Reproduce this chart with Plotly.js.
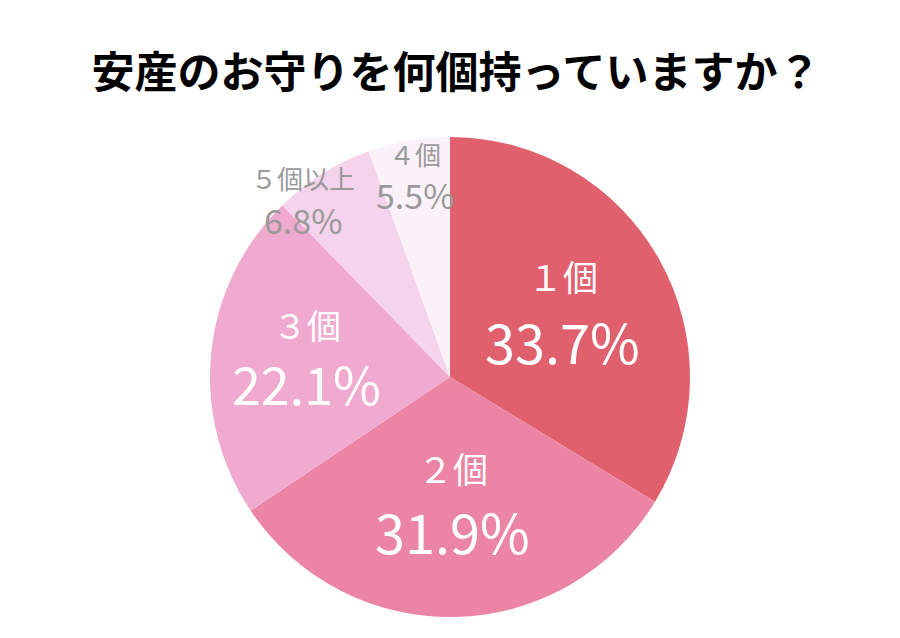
<!DOCTYPE html>
<html><head><meta charset="utf-8">
<script src="https://cdn.plot.ly/plotly-3.0.1.min.js"></script>
<style>html,body{margin:0;padding:0;background:#fff}</style>
</head><body>
<div id="chart" style="width:900px;height:638px"></div>
<script>
const categories = ["１個", "２個", "３個", "５個以上", "４個"];
const percents = [33.7, 31.9, 22.1, 6.8, 5.5];
const colors = ["#E0606E", "#EB85A3", "#F0AACF", "#F5D3EC", "#FBF1F8"];
const titleText = "安産のお守りを何個持っていますか？";

// label styling (positions relative to slice mid-angle)
const labelRadius = [0.54, 0.54, 0.6, 0.95, 0.84];
const angleShift = [0, 0, 0, -8, 0];
const nameOffset = [-38, -39, -38, -25, -25];
const pctOffset = [27, 24, 20, 17, 16];
const nameSize = [35, 35, 34, 26, 26];
const pctSize = [54, 54, 52, 34, 34];
const textColor = ["#ffffff", "#ffffff", "#ffffff", "#9a9a9a", "#9a9a9a"];

const W = 900, H = 638;
const cx = 450, cy = 377, R = 240;

const annotations = [];
const total = percents.reduce((a, b) => a + b, 0);
let cum = 0;
percents.forEach((p, i) => {
  const mid = (cum + p / 2) / total * 360 + angleShift[i];
  cum += p;
  const rad = mid * Math.PI / 180;
  const px = cx + Math.sin(rad) * R * labelRadius[i];
  const py = cy - Math.cos(rad) * R * labelRadius[i];
  annotations.push({
    x: px / W, y: 1 - (py + nameOffset[i]) / H, xref: "paper", yref: "paper",
    text: categories[i], showarrow: false, xanchor: "center", yanchor: "middle",
    font: {family: "Noto Sans CJK JP", size: nameSize[i], color: textColor[i]}
  });
  annotations.push({
    x: px / W, y: 1 - (py + pctOffset[i]) / H, xref: "paper", yref: "paper",
    text: p.toFixed(1) + "%", showarrow: false, xanchor: "center", yanchor: "middle",
    font: {family: "Noto Sans CJK JP", size: pctSize[i], color: textColor[i]}
  });
});

const data = [{
  type: "pie",
  labels: categories,
  values: percents,
  sort: false,
  direction: "clockwise",
  rotation: 0,
  marker: {colors: colors, line: {width: 0}},
  textinfo: "none",
  hoverinfo: "label+percent",
  showlegend: false,
  domain: {x: [(cx - R) / W, (cx + R) / W], y: [1 - (cy + R) / H, 1 - (cy - R) / H]}
}];

const layout = {
  width: W, height: H,
  margin: {l: 0, r: 0, t: 0, b: 0},
  paper_bgcolor: "#ffffff",
  title: {
    text: "<b>" + titleText + "</b>",
    x: 456 / W, xanchor: "center", y: 1 - 73 / H, yanchor: "middle",
    font: {family: "Noto Sans CJK JP", size: 43, color: "#000000"}
  },
  annotations: annotations
};

Plotly.newPlot("chart", data, layout, {displayModeBar: false, staticPlot: true});
</script>
</body></html>
